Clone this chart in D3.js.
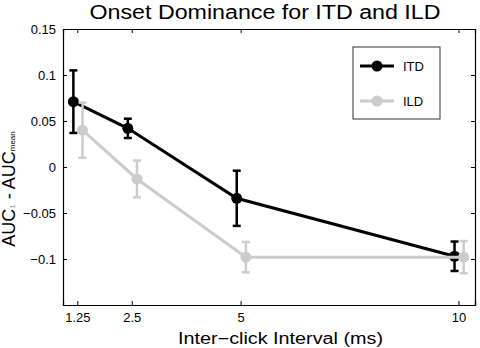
<!DOCTYPE html>
<html>
<head>
<meta charset="utf-8">
<script src="https://cdn.jsdelivr.net/npm/d3@7"></script>
<style>
  body { margin: 0; background: #fff; }
  svg { font-family: "Liberation Sans", Arial, sans-serif; }
</style>
</head>
<body>
<div class="canvas"></div>
<script>
// chart values
const intervals = [1.25, 2.5, 5, 10];
const itdMean = [0.071, 0.042, -0.034, -0.097];
const itdErr = [0.034, 0.0105, 0.030, 0.016];
const ildMean = [0.040, -0.013, -0.098, -0.098];
const ildErr = [0.030, 0.020, 0.0165, 0.0175];
const yTicks = [-0.1, -0.05, 0, 0.05, 0.1, 0.15];

const width = 480, height = 348;
// plot box edges
const box = {left: 63, right: 475, top: 29, bottom: 305};

const svg = d3.select('.canvas')
  .append('svg')
    .attr('width', width)
    .attr('height', height);

const x = d3.scaleLinear().domain([0.922, 10.38]).range([box.left, box.right]);
const y = d3.scaleLinear().domain([-0.15, 0.15]).range([box.bottom, box.top]);

const fmt = d => d === 0 ? '0' : (d < 0 ? '\u2212' : '') + String(Math.abs(+d.toFixed(2)));

// axes on all four sides, ticks pointing inward
svg.append('g')
  .attr('transform', `translate(0, ${box.bottom})`)
  .call(d3.axisBottom(x).tickValues(intervals).tickSize(-4).tickPadding(8).tickFormat(d => String(d)));
svg.append('g')
  .attr('transform', `translate(0, ${box.top})`)
  .call(d3.axisTop(x).tickValues(intervals).tickSize(-4).tickFormat(''));
svg.append('g')
  .attr('transform', `translate(${box.left}, 0)`)
  .call(d3.axisLeft(y).tickValues(yTicks).tickSize(-4).tickPadding(7).tickFormat(fmt));
svg.append('g')
  .attr('transform', `translate(${box.right}, 0)`)
  .call(d3.axisRight(y).tickValues(yTicks).tickSize(-4).tickFormat(''));

svg.selectAll('.domain').attr('stroke', '#000').attr('stroke-width', 1.2);
svg.selectAll('.tick line').attr('stroke', '#000');
svg.selectAll('.tick text')
  .attr('font-size', 13)
  .attr('font-family', '"Liberation Sans", Arial, sans-serif')
  .attr('fill', '#000');

// error bars + lines + markers for one series
function drawSeries(means, errs, colour, dodge) {
  const pts = intervals.map((t, i) => ({ t: t + dodge, m: means[i], e: errs[i] }));
  const g = svg.append('g');

  g.append('path')
    .datum(pts)
    .attr('fill', 'none')
    .attr('stroke', colour)
    .attr('stroke-width', 3)
    .attr('d', d3.line().x(d => x(d.t)).y(d => y(d.m)));

  const bars = g.selectAll('.err').data(pts).enter().append('g');
  bars.append('line')
    .attr('x1', d => x(d.t)).attr('x2', d => x(d.t))
    .attr('y1', d => y(d.m - d.e)).attr('y2', d => y(d.m + d.e));
  bars.append('line')
    .attr('x1', d => x(d.t) - 4).attr('x2', d => x(d.t) + 4)
    .attr('y1', d => y(d.m + d.e)).attr('y2', d => y(d.m + d.e));
  bars.append('line')
    .attr('x1', d => x(d.t) - 4).attr('x2', d => x(d.t) + 4)
    .attr('y1', d => y(d.m - d.e)).attr('y2', d => y(d.m - d.e));
  bars.selectAll('line').attr('stroke', colour).attr('stroke-width', 2.5);

  g.selectAll('circle').data(pts).enter().append('circle')
    .attr('cx', d => x(d.t))
    .attr('cy', d => y(d.m))
    .attr('r', 5.5)
    .attr('fill', colour);
}

drawSeries(itdMean, itdErr, '#000', -0.09);
drawSeries(ildMean, ildErr, '#cccccc', 0.12);

// legend
const legend = svg.append('g').attr('transform', 'translate(353, 47)');
legend.append('rect')
  .attr('width', 87).attr('height', 72)
  .attr('fill', '#fff').attr('stroke', '#333').attr('stroke-width', 1);
[['ITD', '#000'], ['ILD', '#cccccc']].forEach(([name, colour], i) => {
  const row = legend.append('g').attr('transform', `translate(0, ${19 + i * 35})`);
  row.append('line').attr('x1', 7).attr('x2', 41).attr('stroke', colour).attr('stroke-width', 3);
  row.append('circle').attr('cx', 24).attr('r', 5.5).attr('fill', colour);
  row.append('text').attr('x', 50).attr('dy', '0.35em').attr('font-size', 13).text(name);
});

// title and axis labels (the original's font runs wide, so stretch to its width)
svg.append('text')
  .attr('x', 89.5).attr('y', 18.5)
  .attr('font-size', 20)
  .attr('textLength', 351)
  .attr('lengthAdjust', 'spacingAndGlyphs')
  .text('Onset Dominance for ITD and ILD');

svg.append('text')
  .attr('x', 178).attr('y', 343.5)
  .attr('font-size', 16)
  .attr('textLength', 205)
  .attr('lengthAdjust', 'spacingAndGlyphs')
  .text('Inter\u2212click Interval (ms)');

const yLabel = svg.append('text')
  .attr('transform', 'translate(15, 189) rotate(-90)')
  .attr('text-anchor', 'middle')
  .attr('font-size', 18);
yLabel.append('tspan').text('AUC');
yLabel.append('tspan').attr('font-size', 8).attr('fill', '#999').text('1');
yLabel.append('tspan').text(' - AUC');
yLabel.append('tspan').attr('font-size', 8).text('mean');
</script>
</body>
</html>
